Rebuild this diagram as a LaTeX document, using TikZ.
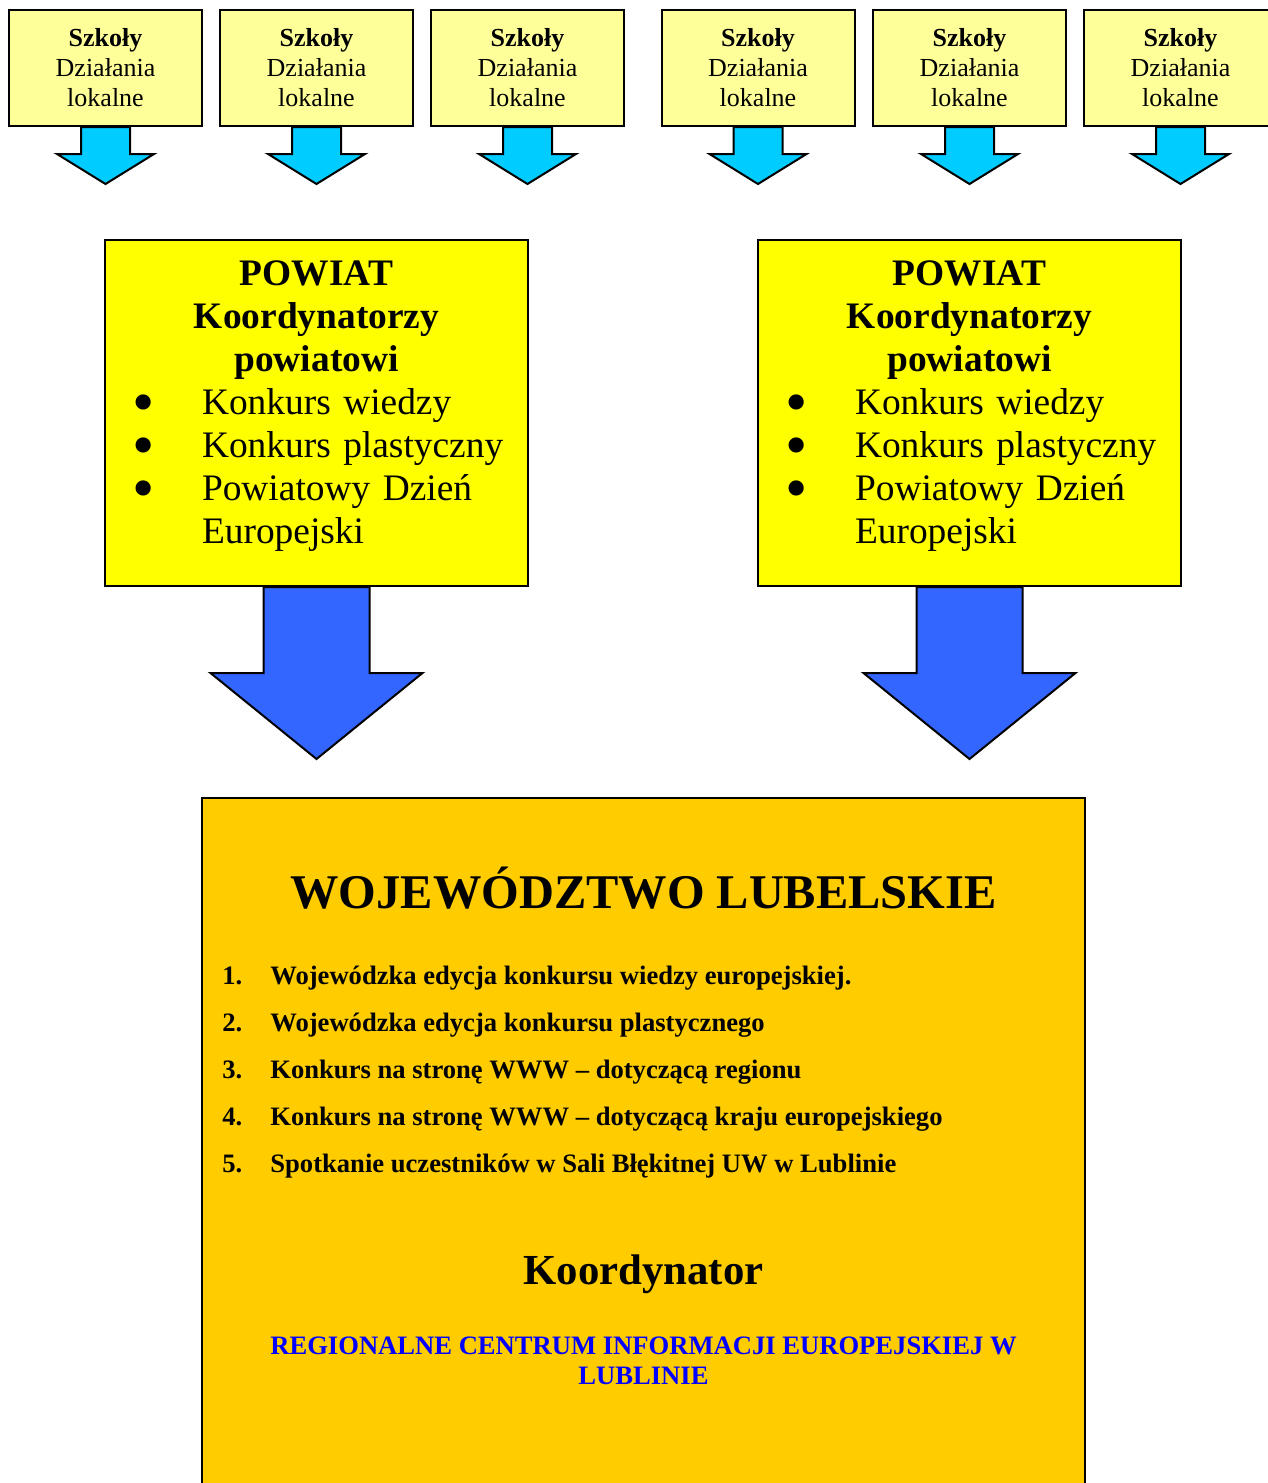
\documentclass[tikz,border=0pt]{standalone}
\usepackage{fontspec}
\setmainfont{Liberation Serif}
\definecolor{paleyellow}{HTML}{FFFF99}
\definecolor{skyblue}{HTML}{00CCFF}
\definecolor{powyellow}{HTML}{FFFF00}
\definecolor{arrowblue}{HTML}{3366FF}
\definecolor{gold}{HTML}{FFCC00}
\definecolor{textblue}{HTML}{0000FF}
\newcommand{\pitem}[1]{\par\noindent\hangindent=48.5pt\hangafter=1\hbox to 48.5pt{\hskip 13.5pt\raisebox{-4.5pt}{\scalebox{1.7}{\textbullet}}\hss}#1}
\tikzstyle{school} = [rectangle, draw, line width=1pt, fill=paleyellow,
    minimum width=96.5pt, minimum height=58pt, inner sep=0pt, align=center,
    font=\fontsize{13}{15}\selectfont]
\tikzstyle{powiat} = [rectangle, draw, line width=1pt, fill=powyellow,
    text width=211.5pt, minimum height=173pt, inner sep=0pt, align=left,
    font=\fontsize{18.7}{21.5}\selectfont]
\tikzstyle{region} = [rectangle, draw, line width=1pt, fill=gold,
    minimum width=441.5pt, minimum height=367.5pt, inner sep=0pt]
\tikzstyle{smallarrow} = [draw, line width=1pt, fill=skyblue]
\tikzstyle{bigarrow} = [draw, line width=1pt, fill=arrowblue]

\begin{document}
\begin{tikzpicture}[x=0.5pt, y=-0.5pt]
  \useasboundingbox (0,0) rectangle (1268,1483);
  \clip (0,0) rectangle (1268,1483);

  % Place nodes
  \node [school] at (105.5,68) (s1) {\textbf{Szkoły}\\Działania\\lokalne};
  \node [school, right of=s1, node distance=105.5pt] (s2) {\textbf{Szkoły}\\Działania\\lokalne};
  \node [school, right of=s2, node distance=105.5pt] (s3) {\textbf{Szkoły}\\Działania\\lokalne};
  \node [school, right of=s3, node distance=115.25pt] (s4) {\textbf{Szkoły}\\Działania\\lokalne};
  \node [school, right of=s4, node distance=105.75pt] (s5) {\textbf{Szkoły}\\Działania\\lokalne};
  \node [school, right of=s5, node distance=105.5pt] (s6) {\textbf{Szkoły}\\Działania\\lokalne};

  \node [powiat, below of=s2, node distance=172.5pt] (powL)
        {{\centering\bfseries POWIAT\\Koordynatorzy\\powiatowi\par}%
         \pitem{Konkurs wiedzy}\pitem{Konkurs plastyczny}%
         \pitem{Powiatowy Dzień\newline Europejski\rule[-10.6pt]{0pt}{1pt}}\par};
  \node [powiat, below of=s5, node distance=172.5pt] (powR)
        {{\centering\bfseries POWIAT\\Koordynatorzy\\powiatowi\par}%
         \pitem{Konkurs wiedzy}\pitem{Konkurs plastyczny}%
         \pitem{Powiatowy Dzień\newline Europejski\rule[-10.6pt]{0pt}{1pt}}\par};

  \node [region] at (643.5,1165.5) (woj) {};

  % arrows
  \draw [smallarrow] (s1.south) ++(-24.5,0) -- ++(0,27) -- ++(-24,0) -- ++(48.5,30) -- ++(48.5,-30) -- ++(-24,0) -- ++(0,-27) -- cycle;
  \draw [smallarrow] (s2.south) ++(-24.5,0) -- ++(0,27) -- ++(-24,0) -- ++(48.5,30) -- ++(48.5,-30) -- ++(-24,0) -- ++(0,-27) -- cycle;
  \draw [smallarrow] (s3.south) ++(-24.5,0) -- ++(0,27) -- ++(-24,0) -- ++(48.5,30) -- ++(48.5,-30) -- ++(-24,0) -- ++(0,-27) -- cycle;
  \draw [smallarrow] (s4.south) ++(-24.5,0) -- ++(0,27) -- ++(-24,0) -- ++(48.5,30) -- ++(48.5,-30) -- ++(-24,0) -- ++(0,-27) -- cycle;
  \draw [smallarrow] (s5.south) ++(-24.5,0) -- ++(0,27) -- ++(-24,0) -- ++(48.5,30) -- ++(48.5,-30) -- ++(-24,0) -- ++(0,-27) -- cycle;
  \draw [smallarrow] (s6.south) ++(-24.5,0) -- ++(0,27) -- ++(-24,0) -- ++(48.5,30) -- ++(48.5,-30) -- ++(-24,0) -- ++(0,-27) -- cycle;

  \draw [bigarrow] (powL.south) ++(-53,0) -- ++(0,86) -- ++(-53,0) -- ++(106,86) -- ++(106,-86) -- ++(-53,0) -- ++(0,-86) -- cycle;
  \draw [bigarrow] (powR.south) ++(-53,0) -- ++(0,86) -- ++(-53,0) -- ++(106,86) -- ++(106,-86) -- ++(-53,0) -- ++(0,-86) -- cycle;

  % texts in the region box
  \node [anchor=base, font=\fontsize{24.2}{28}\selectfont\bfseries] (wojtitle) at (643.5,908) {WOJEWÓDZTWO LUBELSKIE};
  \node [anchor=north west, inner sep=0pt, align=left, font=\fontsize{13.3}{23.5}\selectfont\bfseries] (wojlist) at (222,963)
        {\rule{0pt}{10.5pt}\makebox[24pt][l]{1.}Wojewódzka edycja konkursu wiedzy europejskiej.\\
         \makebox[24pt][l]{2.}Wojewódzka edycja konkursu plastycznego\\
         \makebox[24pt][l]{3.}Konkurs na stronę WWW -- dotyczącą regionu\\
         \makebox[24pt][l]{4.}Konkurs na stronę WWW -- dotyczącą kraju europejskiego\\
         \makebox[24pt][l]{5.}Spotkanie uczestników w Sali Błękitnej UW w Lublinie};
  \node [anchor=base, font=\fontsize{21.4}{25}\selectfont\bfseries] (coord) at (643.5,1284) {Koordynator};
  \node [anchor=north, inner sep=0pt, align=center, text=textblue, font=\fontsize{13.3}{15}\selectfont\bfseries] (rcie) at (643.5,1336)
        {\rule{0pt}{9pt}REGIONALNE CENTRUM INFORMACJI EUROPEJSKIEJ W\\LUBLINIE};
\end{tikzpicture}
\end{document}
